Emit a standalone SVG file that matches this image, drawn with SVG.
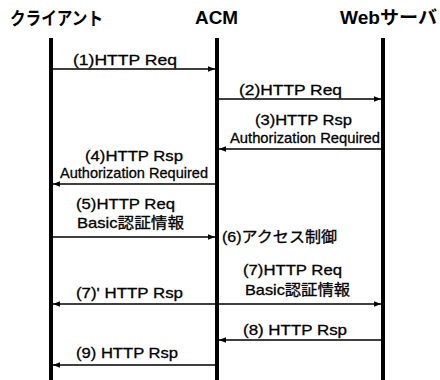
<svg xmlns="http://www.w3.org/2000/svg" width="440" height="380" viewBox="0 0 440 380">
<defs>
<marker id="ah" viewBox="0 0 10 10" refX="10" refY="5" markerWidth="7" markerHeight="7" markerUnits="userSpaceOnUse" orient="auto">
<path d="M0,1 L10,5 L0,9 Z" fill="#000"/>
</marker>
<style>
.life{stroke:#000;stroke-width:4;fill:none}
.msg{stroke:#000;stroke-width:1.6;fill:none;marker-end:url(#ah)}
.title{font-family:"Liberation Sans","Noto Sans CJK JP",sans-serif;font-weight:bold;font-size:18px;fill:#000}
.lbl{font-family:"Liberation Sans","Noto Sans CJK JP",sans-serif;font-size:15px;fill:#000;stroke:#000;stroke-width:0.3}
</style>
</defs>
<rect width="440" height="380" fill="#fff"/>
<g id="client">
<text class="title" x="10" y="25" textLength="93" lengthAdjust="spacingAndGlyphs">クライアント</text>
<line class="life" x1="51" y1="38" x2="51" y2="380"/>
</g>
<g id="acm">
<text class="title" x="195" y="24" textLength="43" lengthAdjust="spacingAndGlyphs">ACM</text>
<line class="life" x1="217" y1="38" x2="217" y2="380"/>
<text class="lbl" x="222" y="242" textLength="115" lengthAdjust="spacingAndGlyphs">(6)アクセス制御</text>
</g>
<g id="webserver">
<text class="title" x="340" y="24" textLength="97" lengthAdjust="spacingAndGlyphs">Webサーバ</text>
<line class="life" x1="383" y1="38" x2="383" y2="380"/>
</g>
<g id="connectors">
<line class="msg" x1="53" y1="69" x2="215" y2="69"/>
<line class="msg" x1="219" y1="99" x2="381" y2="99"/>
<line class="msg" x1="381" y1="149" x2="219" y2="149"/>
<line class="msg" x1="215" y1="184" x2="53" y2="184"/>
<line class="msg" x1="53" y1="237" x2="215" y2="237"/>
<line class="msg" x1="219" y1="304" x2="381" y2="304"/>
<line class="msg" x1="215" y1="304" x2="53" y2="304"/>
<line class="msg" x1="381" y1="340" x2="219" y2="340"/>
<line class="msg" x1="215" y1="365" x2="53" y2="365"/>
<text class="lbl" x="73" y="65" textLength="104" lengthAdjust="spacingAndGlyphs">(1)HTTP Req</text>
<text class="lbl" x="239" y="95" textLength="103" lengthAdjust="spacingAndGlyphs">(2)HTTP Req</text>
<text class="lbl" x="255" y="125" textLength="97" lengthAdjust="spacingAndGlyphs">(3)HTTP Rsp</text>
<text class="lbl" x="230" y="143" textLength="150" lengthAdjust="spacingAndGlyphs">Authorization Required</text>
<text class="lbl" x="85" y="161" textLength="98" lengthAdjust="spacingAndGlyphs">(4)HTTP Rsp</text>
<text class="lbl" x="60" y="178" textLength="148" lengthAdjust="spacingAndGlyphs">Authorization Required</text>
<text class="lbl" x="76" y="209" textLength="99" lengthAdjust="spacingAndGlyphs">(5)HTTP Req</text>
<text class="lbl" x="77" y="228" textLength="107" lengthAdjust="spacingAndGlyphs">Basic認証情報</text>
<text class="lbl" x="243" y="275" textLength="99" lengthAdjust="spacingAndGlyphs">(7)HTTP Req</text>
<text class="lbl" x="245" y="295" textLength="105" lengthAdjust="spacingAndGlyphs">Basic認証情報</text>
<text class="lbl" x="76" y="298" textLength="107" lengthAdjust="spacingAndGlyphs">(7)' HTTP Rsp</text>
<text class="lbl" x="243" y="335" textLength="104" lengthAdjust="spacingAndGlyphs">(8) HTTP Rsp</text>
<text class="lbl" x="76" y="358" textLength="102" lengthAdjust="spacingAndGlyphs">(9) HTTP Rsp</text>
</g>
</svg>
